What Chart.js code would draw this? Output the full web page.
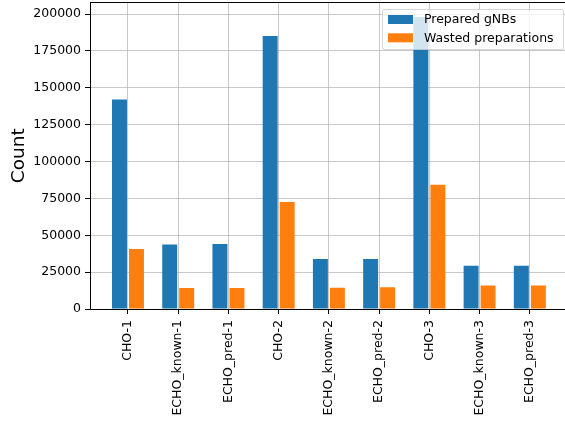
<!DOCTYPE html>
<html>
<head>
<meta charset="utf-8">
<script src="https://cdn.jsdelivr.net/npm/chart.js@4.4.1/dist/chart.umd.min.js"></script>
<style>
  html, body { margin: 0; padding: 0; background: #fff; }
  #wrap { width: 565px; height: 426px; }
</style>
</head>
<body>
<div id="wrap"><canvas id="chart" width="565" height="426"></canvas></div>
<script>
const categories = ['CHO-1', 'ECHO_known-1', 'ECHO_pred-1', 'CHO-2', 'ECHO_known-2', 'ECHO_pred-2', 'CHO-3', 'ECHO_known-3', 'ECHO_pred-3'];
const preparedGnbs = [142000, 43800, 44000, 185200, 33900, 33900, 198000, 29400, 29400];
const wastedPreparations = [40700, 14200, 14200, 72500, 14400, 14700, 84300, 16000, 16000];
const yTicks = [0, 25000, 50000, 75000, 100000, 125000, 150000, 175000, 200000];

const FONT = 'DejaVu Sans';
Chart.defaults.font.family = FONT;
Chart.defaults.font.size = 12.5;
Chart.defaults.color = '#000';

// legend inside the axes (upper right) + top spine
const insideLegend = {
    id: 'insideLegend',
    afterDraw(chart) {
        const ctx = chart.ctx;
        const a = chart.chartArea;
        ctx.save();
        ctx.strokeStyle = '#000';
        ctx.lineWidth = 1;
        ctx.beginPath();
        ctx.moveTo(a.left, Math.round(a.top) + 0.5);
        ctx.lineTo(a.right, Math.round(a.top) + 0.5);
        ctx.stroke();

        const x = 382.5, y = 9.5, w = 181, h = 40;
        ctx.fillStyle = 'rgba(255,255,255,0.8)';
        ctx.strokeStyle = 'rgba(204,204,204,0.8)';
        ctx.beginPath();
        ctx.roundRect(x, y, w, h, 2);
        ctx.fill();
        ctx.stroke();

        ctx.font = '12.5px "' + FONT + '"';
        ctx.textBaseline = 'middle';
        chart.data.datasets.forEach((ds, i) => {
            const ly = 15 + i * 18.3;
            ctx.fillStyle = ds.backgroundColor;
            ctx.fillRect(388, ly, 25, 9);
            ctx.fillStyle = '#000';
            ctx.fillText(ds.label, 424, ly + 5);
        });
        ctx.restore();
    }
};

new Chart(document.getElementById('chart'), {
    type: 'bar',
    data: {
        datasets: [{
            label: 'Prepared gNBs',
            data: preparedGnbs.map((v, i) => ({ x: i, y: v })),
            backgroundColor: '#1f77b4',
            categoryPercentage: 0.677,
            barPercentage: 0.88
        }, {
            label: 'Wasted preparations',
            data: wastedPreparations.map((v, i) => ({ x: i, y: v })),
            backgroundColor: '#ff7f0e',
            categoryPercentage: 0.677,
            barPercentage: 0.88
        }]
    },
    options: {
        responsive: false,
        animation: false,
        devicePixelRatio: 1,
        layout: { padding: { top: 2.4, right: 0, left: 0, bottom: 0 } },
        plugins: {
            legend: { display: false },
            tooltip: { enabled: false }
        },
        scales: {
            x: {
                type: 'linear',
                min: -0.756,
                max: 8.7,
                offset: false,
                z: 1,
                afterBuildTicks: s => { s.ticks = categories.map((c, i) => ({ value: i })); },
                afterFit: s => { s.height = 117; s.paddingLeft = 0; s.paddingRight = 0; },
                grid: {
                    offset: false,
                    color: 'rgba(176,176,176,0.7)',
                    tickColor: '#000',
                    tickLength: 5
                },
                border: { color: '#000', width: 1 },
                ticks: {
                    minRotation: 90,
                    maxRotation: 90,
                    padding: 6,
                    autoSkip: false,
                    callback: v => categories[v]
                }
            },
            y: {
                min: 0,
                max: 207900,
                z: 1,
                afterBuildTicks: s => { s.ticks = yTicks.map(v => ({ value: v })); },
                afterFit: s => { s.width = 90; s.paddingTop = 0; s.paddingBottom = 0; },
                grid: {
                    color: 'rgba(176,176,176,0.7)',
                    tickColor: '#000',
                    tickLength: 5
                },
                border: { color: '#000', width: 1 },
                ticks: {
                    padding: 4,
                    callback: v => String(v)
                },
                title: {
                    display: true,
                    text: 'Count',
                    font: { size: 18.5 },
                    padding: { top: 8, bottom: 0 }
                }
            }
        }
    },
    plugins: [insideLegend]
});
</script>
</body>
</html>
